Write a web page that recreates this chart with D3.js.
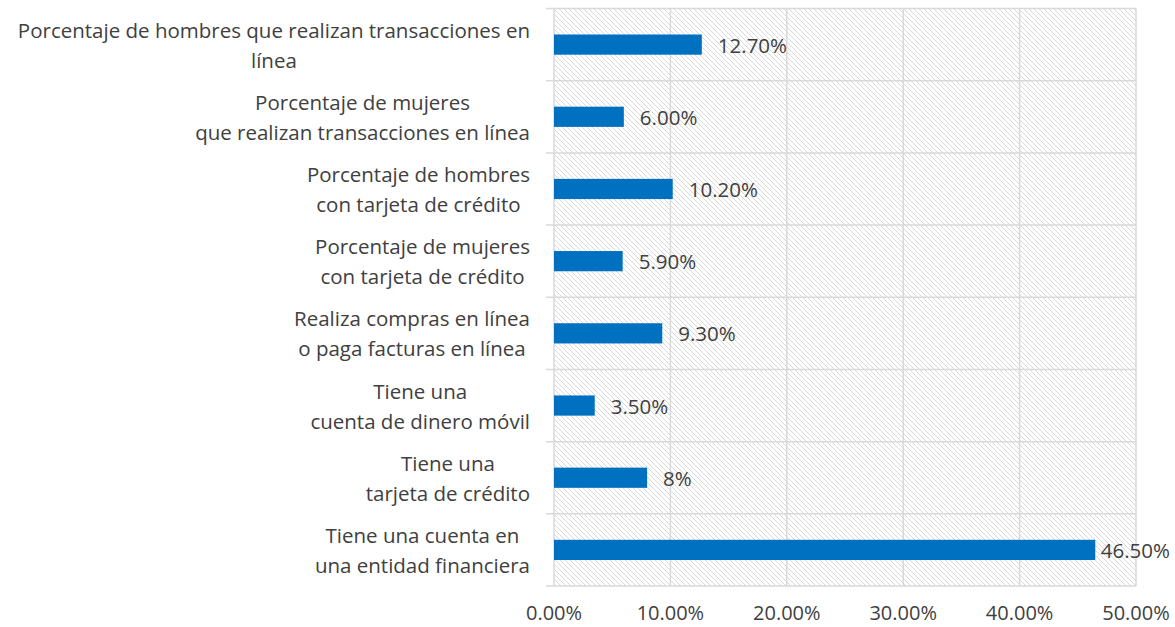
<!DOCTYPE html>
<html>
<head>
<meta charset="utf-8">
<script src="https://cdn.jsdelivr.net/npm/d3@7"></script>
<style>
  body { margin: 0; background: #fff; }
  svg { display: block; font-family: "Open Sans", sans-serif; }
</style>
</head>
<body>
<div id="chart"></div>
<script>
// categories, top to bottom, each split into its display lines
const categories = [
    ["Porcentaje de hombres que realizan transacciones en", "línea"],
    ["Porcentaje de mujeres", "que realizan transacciones en línea"],
    ["Porcentaje de hombres", "con tarjeta de crédito"],
    ["Porcentaje de mujeres", "con tarjeta de crédito"],
    ["Realiza compras en línea", "o paga facturas en línea"],
    ["Tiene una", "cuenta de dinero móvil"],
    ["Tiene una", "tarjeta de crédito"],
    ["Tiene una cuenta en", "una entidad financiera"]
]
const values = [12.7, 6.0, 10.2, 5.9, 9.3, 3.5, 8.0, 46.5]
const valueLabels = ["12.70%", "6.00%", "10.20%", "5.90%", "9.30%", "3.50%", "8%", "46.50%"]
const xTicks = [0, 10, 20, 30, 40, 50]

const width = 1175, height = 627
const margin = {top: 8.5, right: 39, bottom: 41, left: 554}
const textColor = "#404040", gridColor = "#d9d9d9", barColor = "#0070c0"

const svg = d3.select("#chart")
    .append("svg")
    .attr("width", width)
    .attr("height", height)

// hatched plot background
svg.append("defs")
    .append("pattern")
    .attr("id", "hatch")
    .attr("patternUnits", "userSpaceOnUse")
    .attr("width", 5)
    .attr("height", 5)
    .call(p => p.append("rect").attr("width", 5).attr("height", 5).attr("fill", "#fff"))
    .call(p => p.append("path")
        .attr("d", "M-1,-1 L6,6 M-1,4 L1,6 M4,-1 L6,1")
        .attr("stroke", "#d9d9d9")
        .attr("stroke-width", 1))

const x = d3.scaleLinear()
    .domain([0, 50])
    .range([margin.left, width - margin.right])

const y = d3.scaleBand()
    .domain(d3.range(categories.length))
    .range([margin.top, height - margin.bottom])
    .paddingInner(0.72)
    .paddingOuter(0.36)

const step = y.step()
const rowTop = i => margin.top + i * step

svg.append("rect")
    .attr("x", x(0))
    .attr("y", margin.top)
    .attr("width", x(50) - x(0))
    .attr("height", height - margin.bottom - margin.top)
    .attr("fill", "url(#hatch)")

// vertical gridlines
svg.append("g")
    .selectAll("line")
    .data(xTicks)
    .enter()
    .append("line")
    .attr("x1", d => x(d)).attr("x2", d => x(d))
    .attr("y1", margin.top).attr("y2", height - margin.bottom)
    .attr("stroke", gridColor)
    .attr("stroke-width", 1.5)

// horizontal row separators with small ticks to the left
svg.append("g")
    .selectAll("line")
    .data(d3.range(categories.length + 1))
    .enter()
    .append("line")
    .attr("x1", x(0) - 8).attr("x2", x(50))
    .attr("y1", d => rowTop(d)).attr("y2", d => rowTop(d))
    .attr("stroke", gridColor)
    .attr("stroke-width", 1.5)

// bars
svg.append("g")
    .selectAll("rect")
    .data(values)
    .enter()
    .append("rect")
    .attr("x", x(0))
    .attr("y", (d, i) => y(i))
    .attr("width", d => x(d) - x(0))
    .attr("height", y.bandwidth())
    .attr("fill", barColor)

// value labels
const vl = svg.append("g")
    .selectAll("text")
    .data(values)
    .enter()
    .append("text")
    .text((d, i) => valueLabels[i])
    .attr("y", (d, i) => y(i) + y.bandwidth() / 2)
    .attr("dominant-baseline", "central")
    .style("font-size", "20.5px")
    .style("fill", textColor)
vl.attr("x", function(d) {
    const w = this.getComputedTextLength()
    return Math.min(x(d) + 16, width - 5 - w)
})

// category labels: lines centered within a right-aligned block
const labelRight = 530
categories.forEach((lines, i) => {
    const g = svg.append("g")
    const texts = g.selectAll("text")
        .data(lines)
        .enter()
        .append("text")
        .text(d => d)
        .attr("text-anchor", "middle")
        .attr("dominant-baseline", "central")
        .attr("y", (d, j) => y(i) + y.bandwidth() / 2 + (j - (lines.length - 1) / 2) * 30)
        .style("font-size", "20.5px")
        .style("fill", textColor)
    const blockW = d3.max(texts.nodes(), n => n.getComputedTextLength())
    texts.attr("x", labelRight - blockW / 2)
})

// x axis tick labels
svg.append("g")
    .selectAll("text")
    .data(xTicks)
    .enter()
    .append("text")
    .attr("x", d => x(d))
    .attr("y", 620)
    .attr("text-anchor", "middle")
    .text(d => d3.format(".2f")(d) + "%")
    .style("font-size", "20px")
    .style("fill", textColor)
</script>
</body>
</html>
